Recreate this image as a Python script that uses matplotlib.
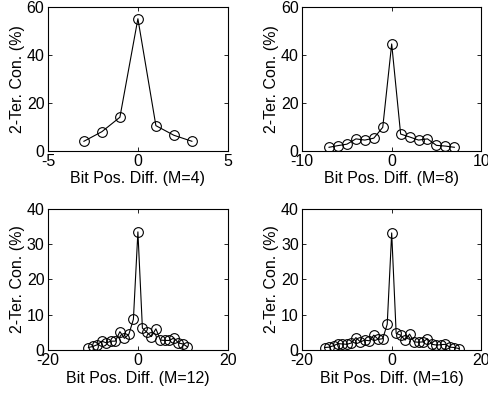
import matplotlib
matplotlib.use('Agg')
import matplotlib.pyplot as plt
import numpy as np

plt.rcParams['font.family'] = ['Liberation Sans', 'DejaVu Sans']
plt.rcParams['font.size'] = 11.5
plt.rcParams['axes.unicode_minus'] = False

# data
x4 = list(range(-3, 4))
y4 = [4, 8, 14, 55, 10.5, 6.5, 4]

x8 = list(range(-7, 8))
y8 = [1.5, 2.2, 2.8, 5, 4.5, 5.3, 9.8, 44.5, 7, 5.8, 4.5, 5, 2.3, 2, 1.5]

x12 = list(range(-11, 12))
y12 = [0.7, 1.0, 1.5, 2.5, 2, 2.5, 2.5, 5.2, 3.3, 4.5, 8.7, 33.5,
       6.2, 5, 3.8, 6, 2.8, 2.7, 2.7, 3.4, 2, 1.7, 0.9]

x16 = list(range(-15, 16))
y16 = [0.7, 0.8, 1.2, 1.8, 1.7, 1.6, 2, 3.5, 2.3, 2.8, 2.6, 4.2, 3, 3.2, 7.3, 33.2,
       4.7, 4.2, 2.8, 4.5, 2.3, 2.2, 2.3, 3.2, 1.6, 1.4, 1.5, 1.6, 0.8, 0.7, 0.4]

panels = [
    (x4, y4, 'M=4', (-5, 5), [-5, 0, 5], (0, 60), [0, 20, 40, 60]),
    (x8, y8, 'M=8', (-10, 10), [-10, 0, 10], (0, 60), [0, 20, 40, 60]),
    (x12, y12, 'M=12', (-20, 20), [-20, 0, 20], (0, 40), [0, 10, 20, 30, 40]),
    (x16, y16, 'M=16', (-20, 20), [-20, 0, 20], (0, 40), [0, 10, 20, 30, 40]),
]

# axes rectangles in figure fraction
rects = [
    [0.098, 0.618, 0.368, 0.365],
    [0.618, 0.618, 0.366, 0.365],
    [0.098, 0.114, 0.368, 0.357],
    [0.618, 0.114, 0.366, 0.357],
]

fig = plt.figure(figsize=(4.89, 3.95), dpi=100)
for (x, y, m, xl, xt, yl, yt), r in zip(panels, rects):
    ax = fig.add_axes(r)
    ax.plot(x, y, '-', color='black', lw=0.8, marker='o', ms=7,
            mfc='none', mec='black', mew=0.8)
    ax.set_xlim(*xl)
    ax.set_ylim(*yl)
    ax.set_xticks(xt)
    ax.set_yticks(yt)
    ax.tick_params(direction='in', top=True, right=True, length=3, width=0.6)
    ax.tick_params(axis='x', pad=2.5)
    ax.tick_params(axis='y', pad=2.5)
    for s in ax.spines.values():
        s.set_linewidth(0.8)
    ax.set_xlabel('Bit Pos. Diff. (%s)' % m, labelpad=1.5)
    ax.set_ylabel('2-Ter. Con. (%)', labelpad=1)

fig.savefig('out.png', dpi=100)
